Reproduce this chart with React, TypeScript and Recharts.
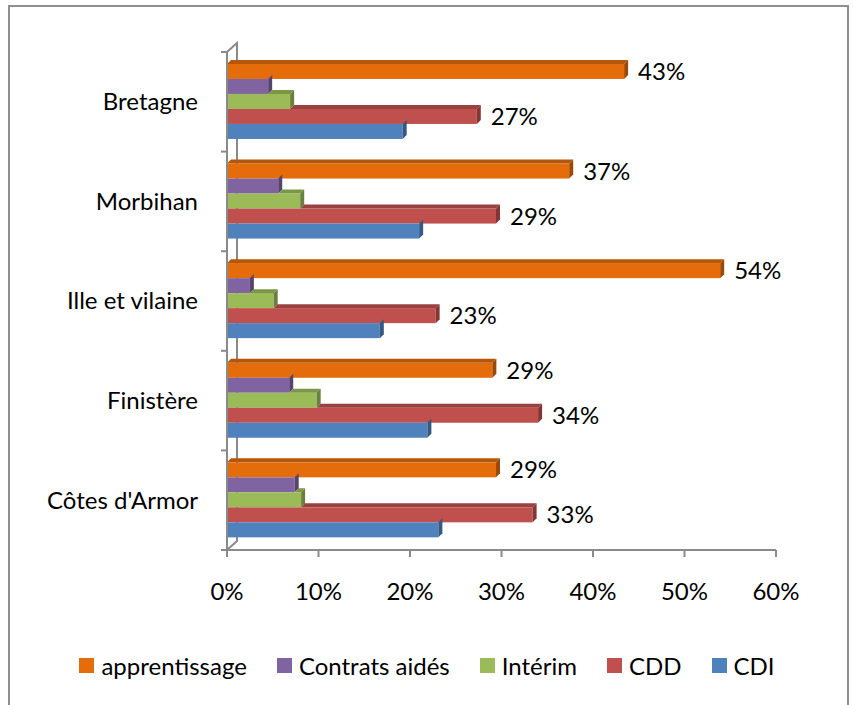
import { BarChart, Bar, XAxis, YAxis, Legend, LabelList } from 'recharts';

// categories from top to bottom
const categories = ['Bretagne', 'Morbihan', 'Ille et vilaine', 'Finistère', "Côtes d'Armor"];

// shares in %
const apprentissage = [43.4, 37.4, 53.9, 29.0, 29.4];
const contratsAides = [4.5, 5.6, 2.5, 6.8, 7.4];
const interim = [6.9, 8.0, 5.1, 9.8, 8.1];
const cdd = [27.3, 29.4, 22.8, 34.0, 33.4];
const cdi = [19.2, 21.0, 16.7, 21.9, 23.1];

const xTicks = [0, 10, 20, 30, 40, 50, 60];

const SERIES = [
  { key: 'apprentissage', name: 'apprentissage', color: '#E46C0A', values: apprentissage, labels: true },
  { key: 'contrats', name: 'Contrats aidés', color: '#8064A2', values: contratsAides, labels: false },
  { key: 'interim', name: 'Intérim', color: '#9BBB59', values: interim, labels: false },
  { key: 'cdd', name: 'CDD', color: '#C0504D', values: cdd, labels: true },
  { key: 'cdi', name: 'CDI', color: '#4F81BD', values: cdi, labels: false },
];

const data = categories.map((name, i) => {
  const row: Record<string, string | number> = { name };
  SERIES.forEach((s) => {
    row[s.key] = s.values[i];
  });
  return row;
});

const W = 854;
const H = 705;
const PLOT_LEFT = 227;
const PLOT_RIGHT = 776;
const PLOT_TOP = 52;
const PLOT_BOTTOM = 550;
const X_AXIS_H = 60;
const BAND = (PLOT_BOTTOM - PLOT_TOP) / categories.length;
const DEPTH = 4;
const AXIS = '#8a8a8a';
const FONT = 'Lato, "Open Sans", sans-serif';
const FONT_SIZE = 24;

function shade(hex: string, f: number) {
  const n = parseInt(hex.slice(1), 16);
  const r = Math.round(((n >> 16) & 255) * f);
  const g = Math.round(((n >> 8) & 255) * f);
  const b = Math.round((n & 255) * f);
  return `rgb(${r},${g},${b})`;
}

// bar with a small top face and right face, top face hidden where the bar above covers it
function make3DBar(index: number) {
  const s = SERIES[index];
  const prev = index > 0 ? SERIES[index - 1] : null;
  return (props: any) => {
    const { x, y, width, height, payload } = props;
    if (!width || width <= 0) return <g />;
    const v = Number(payload[s.key]);
    const pxPerUnit = v ? width / v : 0;
    const upperEnd = prev ? x + Number(payload[prev.key]) * pxPerUnit : x;
    const xs = Math.max(x, Math.min(upperEnd, x + width));
    const d = DEPTH;
    return (
      <g>
        <rect x={x} y={y} width={width} height={height} fill={s.color} />
        <polygon
          points={`${xs},${y} ${xs + d},${y - d} ${x + width + d},${y - d} ${x + width},${y}`}
          fill={shade(s.color, 0.8)}
        />
        <polygon
          points={`${x + width},${y} ${x + width + d},${y - d} ${x + width + d},${y + height - d} ${x + width},${y + height}`}
          fill={shade(s.color, 0.68)}
        />
      </g>
    );
  };
}

function CategoryTick(props: any) {
  const { x, y, payload, index } = props;
  return (
    <g>
      <line x1={x - 6} x2={x} y1={y - BAND / 2} y2={y - BAND / 2} stroke={AXIS} strokeWidth={2} />
      {index === categories.length - 1 && (
        <line x1={x - 6} x2={x} y1={y + BAND / 2} y2={y + BAND / 2} stroke={AXIS} strokeWidth={2} />
      )}
      <text x={x - 29} y={y} dy="0.35em" textAnchor="end" fill="#000" fontSize={FONT_SIZE} fontFamily={FONT}>
        {payload.value}
      </text>
    </g>
  );
}

function LegendContent() {
  return (
    <div
      style={{
        display: 'flex',
        justifyContent: 'center',
        alignItems: 'center',
        fontFamily: FONT,
        fontSize: FONT_SIZE,
        color: '#000',
      }}
    >
      {SERIES.map((s) => (
        <div key={s.key} style={{ display: 'flex', alignItems: 'center', margin: '0 15px' }}>
          <span style={{ width: 15, height: 15, background: s.color, marginRight: 7, display: 'inline-block' }} />
          <span>{s.name}</span>
        </div>
      ))}
    </div>
  );
}

export default function App() {
  const backX = PLOT_LEFT + 10;
  const backDy = 9;
  return (
    <div
      style={{
        position: 'absolute',
        left: 0,
        top: 0,
        width: W,
        height: H,
        overflow: 'hidden',
        background: '#fff',
      }}
    >
      <div
        style={{
          position: 'absolute',
          left: 8,
          top: 5,
          width: 837,
          height: 740,
          border: '2px solid #8f8f8f',
          borderBottom: 'none',
        }}
      />
      <svg width={W} height={H} style={{ position: 'absolute', left: 0, top: 0 }}>
        <polyline
          points={`${PLOT_LEFT},${PLOT_TOP} ${backX},${PLOT_TOP - backDy} ${backX},${PLOT_BOTTOM - backDy} ${PLOT_LEFT},${PLOT_BOTTOM}`}
          fill="none"
          stroke={AXIS}
          strokeWidth={2}
        />
      </svg>
      <div style={{ position: 'absolute', left: 0, top: 0 }}>
        <BarChart
          width={W}
          height={H}
          data={data}
          layout="vertical"
          margin={{ top: PLOT_TOP, right: W - PLOT_RIGHT, bottom: H - PLOT_BOTTOM - X_AXIS_H, left: 0 }}
          barCategoryGap="12%"
          barGap={0}
        >
          <XAxis
            type="number"
            domain={[0, 60]}
            ticks={xTicks}
            interval={0}
            tickFormatter={(v) => `${v}%`}
            axisLine={{ stroke: AXIS, strokeWidth: 2 }}
            tickLine={{ stroke: AXIS, strokeWidth: 2 }}
            tickSize={7}
            tickMargin={26}
            height={X_AXIS_H}
            tick={{ fill: '#000', fontSize: FONT_SIZE, fontFamily: FONT }}
          />
          <YAxis
            type="category"
            dataKey="name"
            width={PLOT_LEFT}
            axisLine={{ stroke: AXIS, strokeWidth: 2 }}
            tickLine={false}
            tickSize={0}
            tickMargin={0}
            interval={0}
            tick={<CategoryTick />}
          />
          <Legend
            layout="horizontal"
            verticalAlign="middle"
            align="center"
            wrapperStyle={{ top: 651, left: 0, width: W }}
            content={<LegendContent />}
          />
          {SERIES.map((s, i) => (
            <Bar key={s.key} dataKey={s.key} name={s.name} fill={s.color} isAnimationActive={false} shape={make3DBar(i)}>
              {s.labels && (
                <LabelList
                  dataKey={s.key}
                  position="right"
                  offset={14}
                  formatter={(v: any) => `${Math.round(Number(v))}%`}
                  fill="#000"
                  fontSize={FONT_SIZE}
                  fontFamily={FONT}
                />
              )}
            </Bar>
          ))}
        </BarChart>
      </div>
    </div>
  );
}
